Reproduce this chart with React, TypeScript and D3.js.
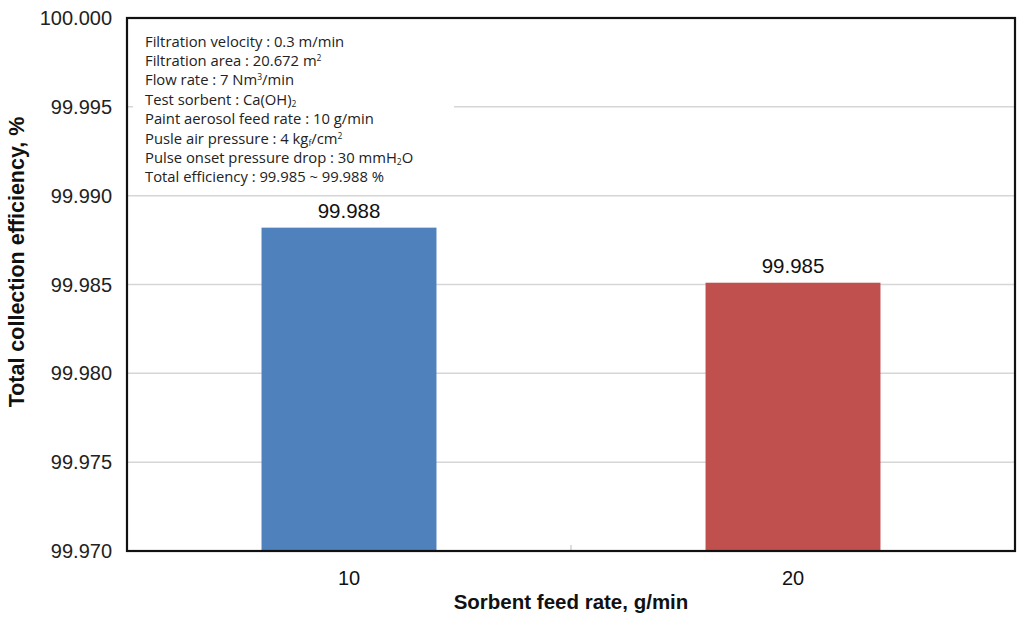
import React from "react";
import * as d3 from "d3";

const categories = ["10", "20"];
const values = [99.9882, 99.9851];
const valueLabels = ["99.988", "99.985"];
const barColors = ["#4f81bd", "#c0504d"];
const yTicks = [99.97, 99.975, 99.98, 99.985, 99.99, 99.995, 100.0];

type Seg = { t: string; s?: "sup" | "sub" };
const infoLines: Seg[][] = [
  [{ t: "Filtration velocity : 0.3 m/min" }],
  [{ t: "Filtration area : 20.672 m" }, { t: "2", s: "sup" }],
  [{ t: "Flow rate : 7 Nm" }, { t: "3", s: "sup" }, { t: "/min" }],
  [{ t: "Test sorbent : Ca(OH)" }, { t: "2", s: "sub" }],
  [{ t: "Paint aerosol feed rate : 10 g/min" }],
  [{ t: "Pusle air pressure : 4 kg" }, { t: "f", s: "sub" }, { t: "/cm" }, { t: "2", s: "sup" }],
  [{ t: "Pulse onset pressure drop : 30 mmH" }, { t: "2", s: "sub" }, { t: "O" }],
  [{ t: "Total efficiency : 99.985 ~ 99.988 %" }],
];

const W = 1024;
const H = 617;
const M = { left: 127, right: 1015, top: 18, bottom: 551 };

export default function App() {
  const x = d3
    .scaleBand<string>()
    .domain(categories)
    .range([M.left, M.right])
    .paddingInner(0.606)
    .paddingOuter(0.303);
  const y = d3.scaleLinear().domain([99.97, 100.0]).range([M.bottom, M.top]);
  const fmt = d3.format(".3f");
  const font = "Liberation Sans, Arial, sans-serif";
  const boxFont = "Open Sans, sans-serif";

  const renderLine = (line: Seg[]) => {
    let shift = 0;
    return line.map((seg, j) => {
      const target = seg.s === "sup" ? -5 : seg.s === "sub" ? 2 : 0;
      const dy = target - shift;
      shift = target;
      return (
        <tspan key={j} dy={dy} fontSize={seg.s ? 8.5 : undefined}>
          {seg.t}
        </tspan>
      );
    });
  };

  return (
    <svg
      width={W}
      height={H}
      style={{ position: "absolute", left: 0, top: 0, background: "#fff" }}
    >
      <rect x={0} y={0} width={W} height={H} fill="#fff" />
      {yTicks
        .filter((t) => t > 99.9701 && t < 99.9999)
        .map((t) => (
          <line
            key={t}
            x1={M.left}
            x2={M.right}
            y1={y(t)}
            y2={y(t)}
            stroke="#d6d6d6"
            strokeWidth={1.5}
          />
        ))}
      {yTicks.map((t) => (
        <text
          key={"l" + t}
          x={112}
          y={y(t)}
          dy="0.35em"
          textAnchor="end"
          fontFamily={font}
          fontSize={20}
          fill="#222"
        >
          {fmt(t)}
        </text>
      ))}
      {/* info box */}
      <rect x={133} y={21} width={321} height={168} fill="#fff" />
      {infoLines.map((line, i) => (
        <text
          key={"i" + i}
          x={145}
          y={46.5 + i * 19.4}
          fontFamily={boxFont}
          fontSize={14.8}
          fill="#222"
        >
          {renderLine(line)}
        </text>
      ))}
      {categories.map((c, i) => (
        <g key={c}>
          <rect
            x={x(c)}
            y={y(values[i])}
            width={x.bandwidth()}
            height={M.bottom - y(values[i])}
            fill={barColors[i]}
          />
          <text
            x={(x(c) as number) + x.bandwidth() / 2}
            y={y(values[i]) - 10}
            textAnchor="middle"
            fontFamily={font}
            fontSize={20.5}
            fill="#111"
          >
            {valueLabels[i]}
          </text>
          <text
            x={(x(c) as number) + x.bandwidth() / 2}
            y={585}
            textAnchor="middle"
            fontFamily={font}
            fontSize={20}
            fill="#111"
          >
            {c}
          </text>
        </g>
      ))}
      <line
        x1={(M.left + M.right) / 2}
        x2={(M.left + M.right) / 2}
        y1={M.bottom}
        y2={M.bottom - 6}
        stroke="#bbb"
        strokeWidth={1}
      />
      <rect
        x={M.left}
        y={M.top}
        width={M.right - M.left}
        height={M.bottom - M.top}
        fill="none"
        stroke="#111"
        strokeWidth={2.2}
      />
      <text
        x={(M.left + M.right) / 2}
        y={609}
        textAnchor="middle"
        fontFamily={font}
        fontWeight="bold"
        fontSize={20.5}
        fill="#111"
      >
        Sorbent feed rate, g/min
      </text>
      <text
        transform={`translate(24, 262) rotate(-90)`}
        textAnchor="middle"
        fontFamily={font}
        fontWeight="bold"
        fontSize={21.5}
        fill="#111"
      >
        Total collection efficiency, %
      </text>
    </svg>
  );
}
